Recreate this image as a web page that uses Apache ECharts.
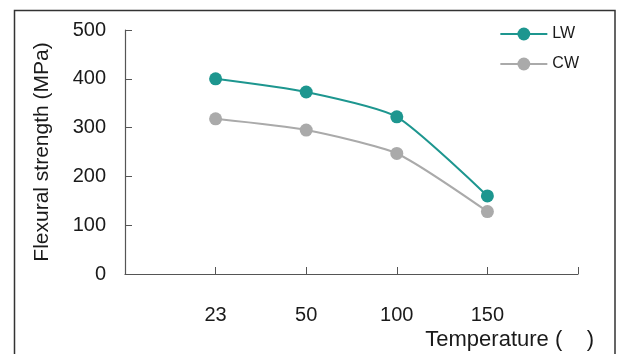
<!DOCTYPE html>
<html>
<head>
<meta charset="utf-8">
<script src="https://cdn.jsdelivr.net/npm/echarts@6/dist/echarts.min.js"></script>
<style>
  html, body { margin: 0; padding: 0; background: #fff; }
  #chart { width: 617px; height: 354px; }
</style>
</head>
<body>
<div id="chart"></div>
<script>
// Temperature categories (blank slots pad both ends of the axis)
const categories = ['', '23', '50', '100', '150', ''];
// Flexural strength in MPa
const lwValues = [null, 400, 373, 322, 160, null];
const cwValues = [null, 318, 295, 247, 128, null];
const yTicks = { min: 0, max: 500, interval: 100 };

const FONT = '"Liberation Sans", Arial, sans-serif';
const AXIS_COLOR = '#555';
const TEXT_COLOR = '#1a1a1a';

const chart = echarts.init(document.getElementById('chart'), null, { renderer: 'canvas' });

chart.setOption({
  animation: false,
  backgroundColor: '#fff',
  textStyle: { fontFamily: FONT },
  grid: { left: 125, right: 39, top: 30, bottom: 80, containLabel: false },
  legend: {
    orient: 'vertical',
    right: 33,
    top: 21,
    itemWidth: 47,
    itemHeight: 16,
    itemGap: 14,
    textStyle: { fontFamily: FONT, fontSize: 16, color: TEXT_COLOR },
    data: ['LW', 'CW']
  },
  xAxis: {
    type: 'category',
    data: categories,
    boundaryGap: false,
    axisLine: { lineStyle: { color: AXIS_COLOR, width: 1.2 } },
    axisTick: { inside: true, length: 7, lineStyle: { color: AXIS_COLOR } },
    axisLabel: { fontFamily: FONT, fontSize: 20, color: TEXT_COLOR, margin: 31 },
    splitLine: { show: false }
  },
  yAxis: {
    type: 'value',
    min: yTicks.min,
    max: yTicks.max,
    interval: yTicks.interval,
    name: 'Flexural strength (MPa)',
    nameLocation: 'middle',
    nameGap: 72,
    nameTextStyle: { fontFamily: FONT, fontSize: 21, color: TEXT_COLOR },
    axisLine: { show: true, lineStyle: { color: AXIS_COLOR, width: 1.2 } },
    axisTick: { show: true, inside: true, length: 7, lineStyle: { color: AXIS_COLOR } },
    axisLabel: { fontFamily: FONT, fontSize: 20, color: TEXT_COLOR, margin: 19 },
    splitLine: { show: false }
  },
  series: [
    {
      name: 'LW',
      type: 'line',
      data: lwValues,
      smooth: 0.2,
      symbol: 'circle',
      symbolSize: 13,
      color: '#1d968f',
      lineStyle: { width: 2, color: '#1d968f' },
      itemStyle: { color: '#1d968f' }
    },
    {
      name: 'CW',
      type: 'line',
      data: cwValues,
      smooth: 0.2,
      symbol: 'circle',
      symbolSize: 13,
      color: '#aaaaaa',
      lineStyle: { width: 2, color: '#aaaaaa' },
      itemStyle: { color: '#aaaaaa' }
    }
  ],
  graphic: [
    {
      type: 'rect',
      shape: { x: 14.5, y: 10.5, width: 600.5, height: 360 },
      style: { fill: null, stroke: '#333', lineWidth: 1.5 },
      silent: true,
      z: -1
    },
    {
      type: 'text',
      style: {
        text: 'Temperature (    )',
        x: 594,
        y: 340,
        align: 'right',
        verticalAlign: 'middle',
        font: '22px ' + FONT,
        fill: TEXT_COLOR
      }
    }
  ]
});
</script>
</body>
</html>
